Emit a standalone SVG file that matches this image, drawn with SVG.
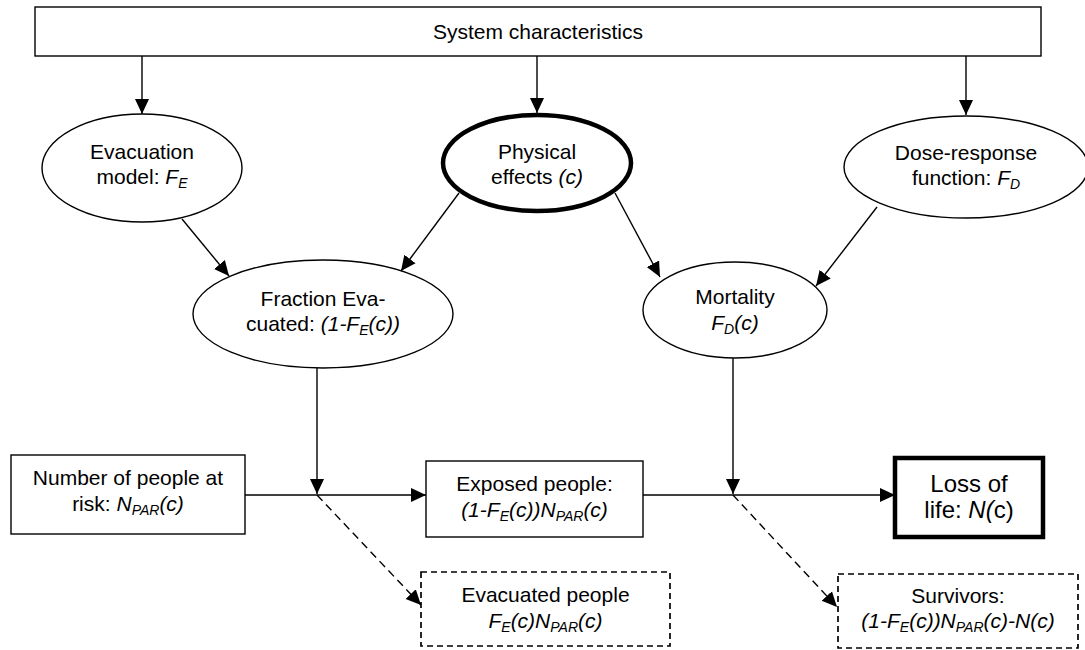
<svg xmlns="http://www.w3.org/2000/svg" width="1085" height="650" viewBox="0 0 1085 650">
  <defs>
    <style>
      text{font-family:"Liberation Sans",Arial,sans-serif;font-size:21px;fill:#000;text-anchor:middle}
      .i{font-style:italic}
      .s{font-size:14px}
      .big{font-size:24px}
      .node{fill:#fff;stroke:#000;stroke-width:1.4}
      .thick{stroke-width:4.5}
      .dash{stroke-dasharray:6 4;stroke-width:1.7}
      .edge{stroke:#000;stroke-width:1.4;fill:none}
      .edash{stroke-dasharray:8 5}
    </style>
    <marker id="ah" markerUnits="userSpaceOnUse" markerWidth="16" markerHeight="16" viewBox="0 0 16 16" refX="15" refY="8" orient="auto">
      <path d="M0,1 L15,8 L0,15 z" fill="#000"/>
    </marker>
  </defs>
  <rect width="1085" height="650" fill="#fff"/>

  <!-- top box -->
  <g id="system">
    <rect class="node" x="35" y="7" width="1006" height="49"/>
    <text x="538" y="39">System characteristics</text>
  </g>

  <!-- first row of ellipses -->
  <g id="evacuation-model">
    <ellipse class="node" cx="142" cy="168" rx="100" ry="54"/>
    <text x="142" y="159">Evacuation</text>
    <text x="142" y="184">model: <tspan class="i">F</tspan><tspan class="i s" dy="4">E</tspan></text>
  </g>
  <g id="physical-effects">
    <ellipse class="node thick" cx="537" cy="163" rx="94" ry="48"/>
    <text x="537" y="159">Physical</text>
    <text x="537" y="184">effects <tspan class="i">(c)</tspan></text>
  </g>
  <g id="dose-response">
    <ellipse class="node" cx="966" cy="167" rx="122" ry="51"/>
    <text x="966" y="160">Dose-response</text>
    <text x="966" y="185">function: <tspan class="i">F</tspan><tspan class="i s" dy="4">D</tspan></text>
  </g>

  <!-- second row of ellipses -->
  <g id="fraction-evacuated">
    <ellipse class="node" cx="323" cy="314" rx="130" ry="54"/>
    <text x="323" y="306">Fraction Eva-</text>
    <text x="323" y="331">cuated: <tspan class="i">(1-F</tspan><tspan class="i s" dy="4">E</tspan><tspan class="i" dy="-4">(c))</tspan></text>
  </g>
  <g id="mortality">
    <ellipse class="node" cx="735" cy="310" rx="92" ry="48"/>
    <text x="735" y="304">Mortality</text>
    <text x="735" y="330"><tspan class="i">F</tspan><tspan class="i s" dy="4">D</tspan><tspan class="i" dy="-4">(c)</tspan></text>
  </g>

  <!-- population boxes -->
  <g id="people-at-risk">
    <rect class="node" x="11" y="455" width="234" height="79"/>
    <text x="128" y="485">Number of people at</text>
    <text x="128" y="511">risk: <tspan class="i">N</tspan><tspan class="i s" dy="4">PAR</tspan><tspan class="i" dy="-4">(c)</tspan></text>
  </g>
  <g id="exposed-people">
    <rect class="node" x="426" y="461" width="217" height="76"/>
    <text x="534.5" y="491">Exposed people:</text>
    <text x="534.5" y="517"><tspan class="i">(1-F</tspan><tspan class="i s" dy="4">E</tspan><tspan class="i" dy="-4">(c))N</tspan><tspan class="i s" dy="4">PAR</tspan><tspan class="i" dy="-4">(c)</tspan></text>
  </g>
  <g id="loss-of-life">
    <rect class="node thick" x="895" y="458" width="148" height="79"/>
    <text class="big" x="969" y="492">Loss of</text>
    <text class="big" x="969" y="518">life: <tspan class="i">N(</tspan>c)</text>
  </g>
  <g id="evacuated-people">
    <rect class="node dash" x="421" y="572" width="249" height="74"/>
    <text x="545.5" y="602">Evacuated people</text>
    <text x="545.5" y="628"><tspan class="i">F</tspan><tspan class="i s" dy="4">E</tspan><tspan class="i" dy="-4">(c)N</tspan><tspan class="i s" dy="4">PAR</tspan><tspan class="i" dy="-4">(c)</tspan></text>
  </g>
  <g id="survivors">
    <rect class="node dash" x="838" y="574" width="240" height="74"/>
    <text x="958" y="603">Survivors:</text>
    <text x="958" y="628"><tspan class="i">(1-F</tspan><tspan class="i s" dy="4">E</tspan><tspan class="i" dy="-4">(c))N</tspan><tspan class="i s" dy="4">PAR</tspan><tspan class="i" dy="-4">(c)-N(c)</tspan></text>
  </g>

  <!-- connectors -->
  <g id="connectors" class="edge">
    <line x1="142" y1="56" x2="142" y2="114" marker-end="url(#ah)"/>
    <line x1="537" y1="56" x2="537" y2="113" marker-end="url(#ah)"/>
    <line x1="966" y1="56" x2="966" y2="115" marker-end="url(#ah)"/>
    <line x1="182" y1="219" x2="229" y2="276" marker-end="url(#ah)"/>
    <line x1="459" y1="193" x2="401" y2="271" marker-end="url(#ah)"/>
    <line x1="615" y1="193" x2="660" y2="277" marker-end="url(#ah)"/>
    <line x1="877" y1="207" x2="816" y2="286" marker-end="url(#ah)"/>
    <line x1="317" y1="368" x2="317" y2="494" marker-end="url(#ah)"/>
    <line x1="733" y1="358" x2="733" y2="494" marker-end="url(#ah)"/>
    <line x1="245" y1="495" x2="426" y2="495" marker-end="url(#ah)"/>
    <line x1="643" y1="495" x2="895" y2="495" marker-end="url(#ah)"/>
    <line class="edash" x1="317" y1="495" x2="421" y2="605" marker-end="url(#ah)"/>
    <line class="edash" x1="733" y1="495" x2="837" y2="607" marker-end="url(#ah)"/>
  </g>
</svg>
